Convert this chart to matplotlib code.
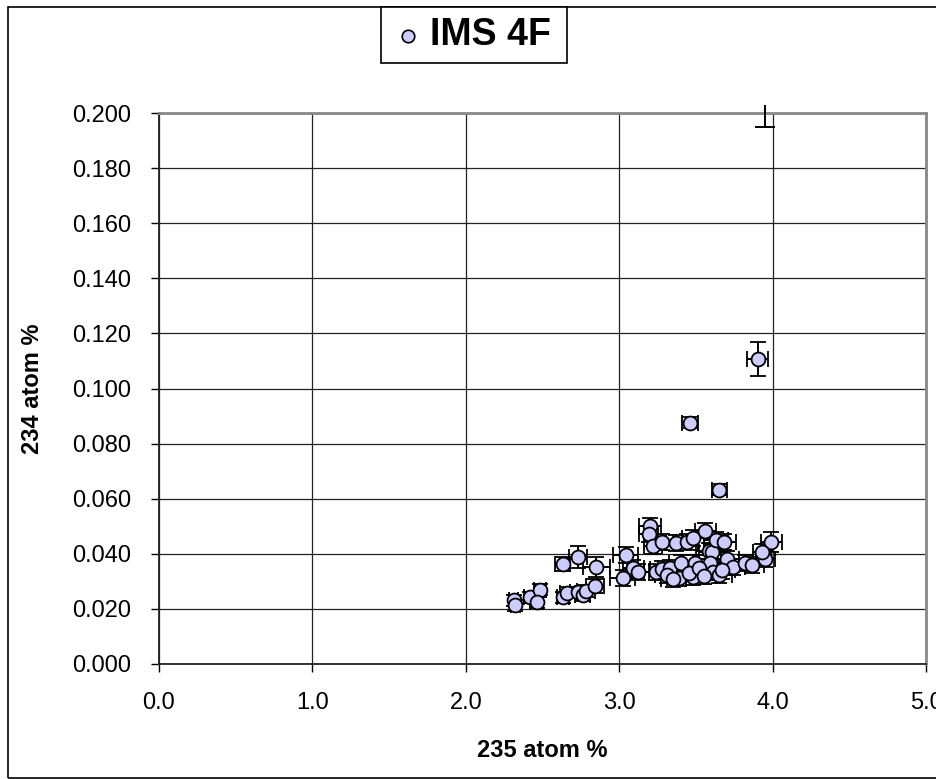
import matplotlib.pyplot as plt
from matplotlib.patches import Rectangle
from matplotlib.lines import Line2D

plt.rcParams['font.family'] = ['Liberation Sans', 'DejaVu Sans']

# IMS 4F measurements: 235 atom % vs 234 atom %
x235 = [2.31, 2.32, 2.42, 2.48, 2.46, 2.63, 2.66, 2.63, 2.73, 2.73, 2.76, 2.78,
        2.84, 2.85, 3.02, 3.04, 3.09, 3.12, 3.20, 3.19, 3.22, 3.28, 3.24, 3.28,
        3.33, 3.31, 3.37, 3.40, 3.39, 3.44, 3.48, 3.49, 3.48, 3.56, 3.58, 3.60,
        3.59, 3.61, 3.63, 3.68, 3.65, 3.70, 3.74, 3.82, 3.86, 3.99, 3.95, 3.93,
        3.45, 3.52, 3.55, 3.67, 3.35,
        3.46, 3.65, 3.90]
y234 = [0.0232, 0.0214, 0.0243, 0.0269, 0.0225, 0.0243, 0.0258, 0.0363, 0.0388, 0.0261, 0.0250, 0.0265,
        0.0283, 0.0352, 0.0312, 0.0396, 0.0348, 0.0334, 0.0501, 0.0472, 0.0428, 0.0443, 0.0334, 0.0345,
        0.0348, 0.0323, 0.0439, 0.0367, 0.0312, 0.0443, 0.0457, 0.0367, 0.0316, 0.0483, 0.0410, 0.0407,
        0.0367, 0.0334, 0.0450, 0.0443, 0.0323, 0.0381, 0.0352, 0.0367, 0.0359, 0.0443, 0.0381, 0.0407,
        0.0330, 0.0350, 0.0320, 0.0340, 0.0310,
        0.0875, 0.0632, 0.1107]
xerr = [0.03, 0.03, 0.04, 0.04, 0.04, 0.04, 0.05, 0.05, 0.06, 0.05, 0.05, 0.06,
        0.06, 0.09, 0.08, 0.08, 0.07, 0.07, 0.07, 0.06, 0.06, 0.07, 0.08, 0.08,
        0.08, 0.08, 0.07, 0.08, 0.08, 0.07, 0.07, 0.08, 0.08, 0.07, 0.08, 0.08,
        0.08, 0.08, 0.08, 0.08, 0.08, 0.08, 0.08, 0.08, 0.08, 0.07, 0.06, 0.06,
        0.08, 0.08, 0.08, 0.08, 0.08,
        0.05, 0.05, 0.07]
yerr = [0.0020, 0.0020, 0.0020, 0.0020, 0.0020, 0.0020, 0.0020, 0.0025, 0.0040, 0.0020, 0.0020, 0.0020,
        0.0025, 0.0036, 0.0030, 0.0030, 0.0030, 0.0030, 0.0030, 0.0030, 0.0030, 0.0030, 0.0030, 0.0030,
        0.0030, 0.0030, 0.0030, 0.0030, 0.0030, 0.0030, 0.0030, 0.0030, 0.0030, 0.0027, 0.0030, 0.0030,
        0.0030, 0.0030, 0.0030, 0.0030, 0.0030, 0.0030, 0.0030, 0.0030, 0.0030, 0.0035, 0.0030, 0.0030,
        0.0030, 0.0030, 0.0030, 0.0030, 0.0030,
        0.0020, 0.0020, 0.0060]

# one point lies just above the axis range; only its lower error bar shows
off_x = 3.95
off_y = 0.203
off_lo = 0.008

xticks = [0.0, 1.0, 2.0, 3.0, 4.0, 5.0]
yticks = [0.000, 0.020, 0.040, 0.060, 0.080, 0.100, 0.120, 0.140, 0.160, 0.180, 0.200]

fig = plt.figure(figsize=(9.37, 7.79), dpi=100)
ax = fig.add_axes([159 / 937, 1 - 664 / 779, (926.5 - 159) / 937, (664 - 113) / 779])

ax.errorbar(x235, y234, xerr=xerr, yerr=yerr, fmt='o', color='black',
            mfc='#ccccff', mec='black', mew=1.3, ms=10, ecolor='black',
            elinewidth=1.4, capsize=6, capthick=1.4, zorder=3)

ax.errorbar([off_x], [off_y], yerr=[[off_lo], [0]], fmt='none', ecolor='black',
            elinewidth=1.4, capsize=0, clip_on=False, zorder=3)
ax.plot([off_x], [off_y - off_lo], marker='_', ms=14, mew=1.4, color='black',
        clip_on=False, zorder=3)

ax.set_xlim(0, 5)
ax.set_ylim(0, 0.2)
ax.set_xticks(xticks)
ax.set_yticks(yticks)
ax.set_xticklabels(['%.1f' % v for v in xticks])
ax.set_yticklabels(['%.3f' % v for v in yticks])
ax.tick_params(axis='both', direction='out', length=6, width=1, labelsize=17)
ax.tick_params(axis='x', pad=14)
ax.tick_params(axis='y', pad=14)
ax.grid(True, color='#222222', linewidth=0.9)
ax.set_axisbelow(True)

for s in ['left', 'bottom']:
    ax.spines[s].set_color('#222222')
    ax.spines[s].set_linewidth(1.3)
for s in ['top', 'right']:
    ax.spines[s].set_color('#888888')
    ax.spines[s].set_linewidth(2)

ax.set_xlabel('235 atom %', fontsize=17, fontweight='bold', labelpad=18)
ax.set_ylabel('234 atom %', fontsize=17, fontweight='bold', labelpad=20)

# chart border
fig.patches.append(Rectangle((8 / 937, 1 / 779), 1.2, 1 - 8 / 779, transform=fig.transFigure,
                             fill=False, edgecolor='black', linewidth=1.2))

# legend box
fig.patches.append(Rectangle((381 / 937, 1 - 63 / 779), (567 - 381) / 937, (63 - 7) / 779,
                             transform=fig.transFigure, facecolor='white',
                             edgecolor='black', linewidth=1.2))
fig.lines.append(Line2D([408 / 937], [1 - 36 / 779], transform=fig.transFigure, marker='o',
                        ms=9, mfc='#ccccff', mec='black', mew=1.2, linestyle='none'))
fig.text(430 / 937, 1 - 35 / 779, 'IMS 4F', fontsize=27, fontweight='bold',
         ha='left', va='center')

fig.savefig('out.png', dpi=100)
